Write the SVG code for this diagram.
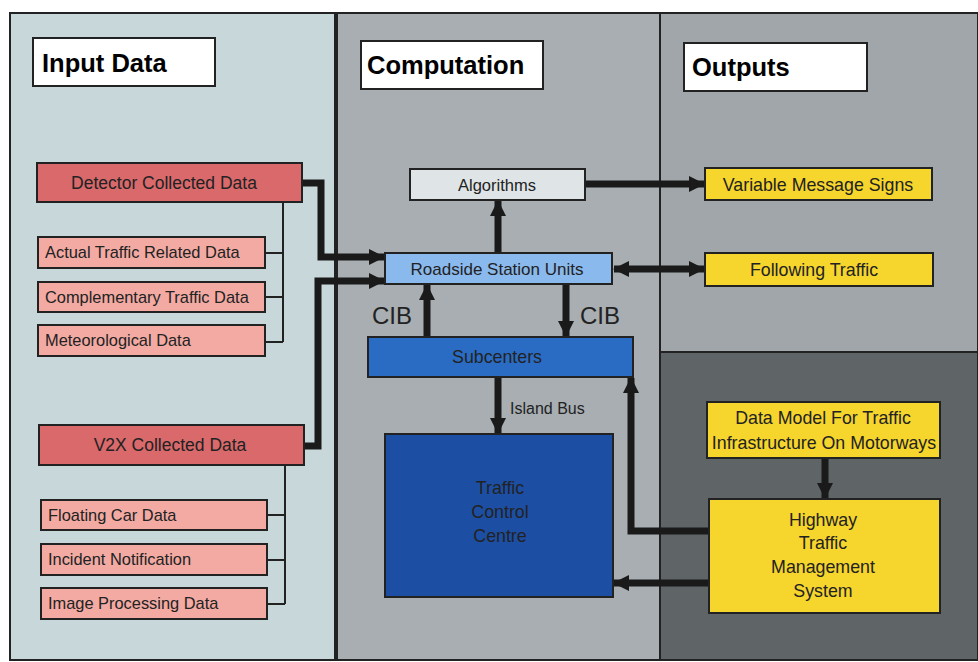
<svg xmlns="http://www.w3.org/2000/svg" width="978" height="662" viewBox="0 0 978 662">
<defs>
<marker id="ah" viewBox="0 0 16 16" refX="15" refY="8" markerWidth="16" markerHeight="16" markerUnits="userSpaceOnUse" orient="auto-start-reverse">
<path d="M0,0 L16,8 L0,16 z" fill="#1a1a1a"/>
</marker>
</defs>
<style>
text{font-family:"Liberation Sans",Arial,sans-serif;fill:#222}
.title{font-size:25.5px;font-weight:bold;fill:#000}
.tbox{fill:#fff;stroke:#222;stroke-width:2}
.red{fill:#d9696b;stroke:#222;stroke-width:2}
.pink{fill:#f2aaa3;stroke:#222;stroke-width:2}
.yel{fill:#f6d52c;stroke:#222;stroke-width:2}
.bl1{fill:#8ab9ee;stroke:#222;stroke-width:2}
.bl2{fill:#2a6cc4;stroke:#222;stroke-width:2}
.bl3{fill:#1c4fa3;stroke:#222;stroke-width:2}
.alg{fill:#dfe5e7;stroke:#222;stroke-width:2}
.thick{fill:none;stroke:#1a1a1a;stroke-width:7}
.thin{fill:none;stroke:#222;stroke-width:2}
.s18{font-size:17.8px}
.s17{font-size:17.5px}
.s16{font-size:16.4px}
.mid{text-anchor:middle}
</style>
<rect x="0" y="0" width="978" height="662" fill="#fff"/>
<g id="panels">
<rect x="10" y="13" width="325" height="647" fill="#c8d7da" stroke="#222" stroke-width="2"/>
<rect x="337" y="13" width="323" height="647" fill="#a8aeb2" stroke="#222" stroke-width="2"/>
<rect x="660" y="13" width="318" height="339" fill="#a0a6a9" stroke="#222" stroke-width="2"/>
<rect x="660" y="352" width="318" height="308" fill="#5f6466" stroke="#222" stroke-width="2"/>
</g>
<g id="title-input"><rect class="tbox" x="33" y="38" width="182" height="48"/><text class="title" x="42" y="72">Input Data</text></g>
<g id="title-computation"><rect class="tbox" x="361" y="41" width="182" height="48"/><text class="title" x="367" y="74">Computation</text></g>
<g id="title-outputs"><rect class="tbox" x="684" y="43" width="183" height="48"/><text class="title" x="692" y="76">Outputs</text></g>

<g id="connectors">
<polyline class="thin" points="265,253 283,253"/>
<polyline class="thin" points="265,297 283,297"/>
<polyline class="thin" points="265,342 283,342"/>
<polyline class="thin" points="283,202 283,342"/>
<polyline class="thin" points="267,515 285,515"/>
<polyline class="thin" points="267,560 285,560"/>
<polyline class="thin" points="267,604 285,604"/>
<polyline class="thin" points="285,465 285,604"/>
<polyline class="thick" points="302,183 321,183 321,257 384,257" marker-end="url(#ah)"/>
<polyline class="thick" points="304,446 318,446 318,281 384,281" marker-end="url(#ah)"/>
<line class="thick" x1="498" y1="253" x2="498" y2="201" marker-end="url(#ah)"/>
<line class="thick" x1="585" y1="184" x2="704" y2="184" marker-end="url(#ah)"/>
<line class="thick" x1="614" y1="269" x2="704" y2="269" marker-start="url(#ah)" marker-end="url(#ah)"/>
<line class="thick" x1="427" y1="337" x2="427" y2="285" marker-end="url(#ah)"/>
<line class="thick" x1="566" y1="284" x2="566" y2="336" marker-end="url(#ah)"/>
<line class="thick" x1="498" y1="377" x2="498" y2="433" marker-end="url(#ah)"/>
<polyline class="thick" points="709,531 631,531 631,378" marker-end="url(#ah)"/>
<line class="thick" x1="709" y1="583" x2="614" y2="583" marker-end="url(#ah)"/>
<line class="thick" x1="825" y1="458" x2="825" y2="498" marker-end="url(#ah)"/>
<text x="372" y="324" style="font-size:24px">CIB</text>
<text x="580" y="324" style="font-size:24px">CIB</text>
<text x="510" y="414" style="font-size:16px">Island Bus</text>
</g>

<g id="detector"><rect class="red" x="37" y="163" width="265" height="39"/><text class="s17 mid" x="164" y="189">Detector Collected Data</text></g>
<g id="actual"><rect class="pink" x="38" y="237" width="227" height="31"/><text class="s16" x="45" y="258">Actual Traffic Related Data</text></g>
<g id="complementary"><rect class="pink" x="38" y="282" width="227" height="30"/><text class="s16" x="45" y="303">Complementary Traffic Data</text></g>
<g id="meteorological"><rect class="pink" x="38" y="325" width="227" height="31"/><text class="s16" x="45" y="346">Meteorological Data</text></g>
<g id="v2x"><rect class="red" x="39" y="425" width="265" height="40"/><text class="s17 mid" x="170" y="451">V2X Collected Data</text></g>
<g id="floating"><rect class="pink" x="41" y="500" width="226" height="30"/><text class="s16" x="48" y="521">Floating Car Data</text></g>
<g id="incident"><rect class="pink" x="41" y="544" width="226" height="31"/><text class="s16" x="48" y="565">Incident Notification</text></g>
<g id="image"><rect class="pink" x="41" y="588" width="226" height="31"/><text class="s16" x="48" y="609">Image Processing Data</text></g>

<g id="algorithms"><rect class="alg" x="410" y="169" width="175" height="31"/><text class="mid" x="497" y="191" style="font-size:16.5px">Algorithms</text></g>
<g id="roadside"><rect class="bl1" x="385" y="253" width="227" height="31"/><text class="mid" x="497" y="275" style="font-size:17px">Roadside Station Units</text></g>
<g id="subcenters"><rect class="bl2" x="368" y="337" width="265" height="40"/><text class="s18 mid" x="497" y="363">Subcenters</text></g>
<g id="tcc"><rect class="bl3" x="385" y="434" width="228" height="163"/><text class="s18 mid" x="500" y="494">Traffic</text><text class="s18 mid" x="500" y="518">Control</text><text class="s18 mid" x="500" y="542">Centre</text></g>

<g id="vms"><rect class="yel" x="705" y="168" width="227" height="32"/><text class="s18 mid" x="818" y="191">Variable Message Signs</text></g>
<g id="following"><rect class="yel" x="705" y="253" width="228" height="33"/><text class="s18 mid" x="814" y="276">Following Traffic</text></g>
<g id="datamodel"><rect class="yel" x="707" y="402" width="233" height="56"/><text class="s18 mid" x="823" y="424">Data Model For Traffic</text><text class="s18 mid" x="824" y="449">Infrastructure On Motorways</text></g>
<g id="htms"><rect class="yel" x="709" y="499" width="231" height="114"/><text class="s18 mid" x="823" y="526">Highway</text><text class="s18 mid" x="823" y="549">Traffic</text><text class="s18 mid" x="823" y="573">Management</text><text class="s18 mid" x="823" y="597">System</text></g>
</svg>
